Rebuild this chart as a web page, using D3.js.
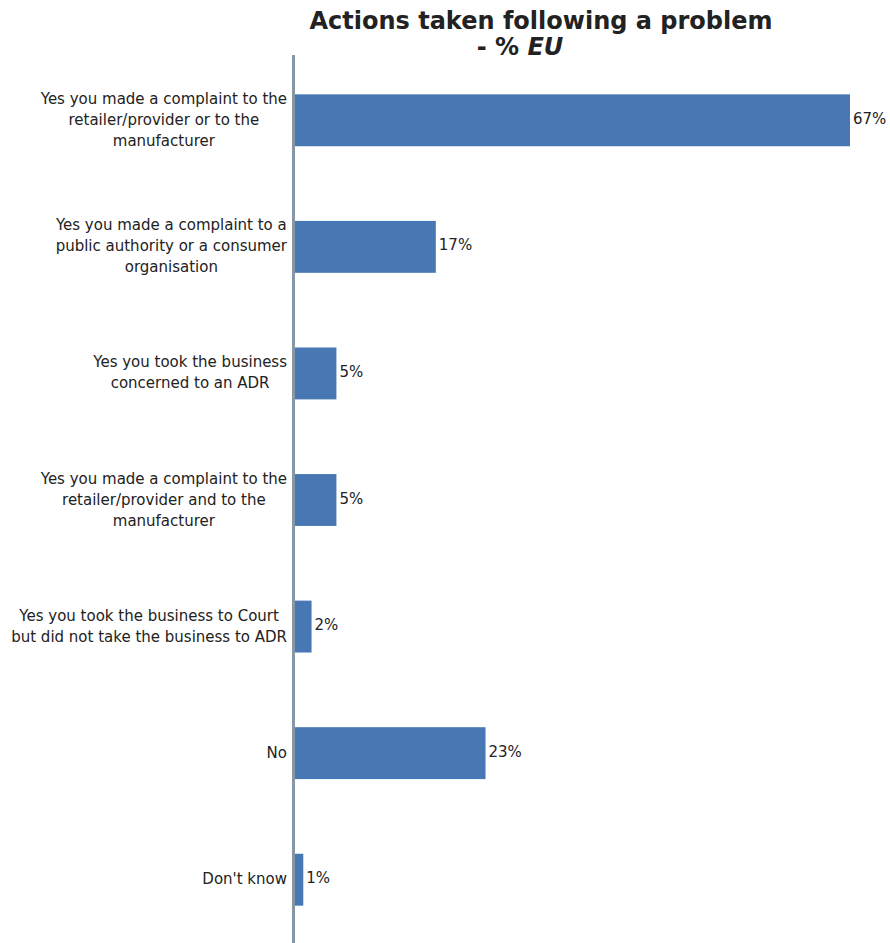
<!DOCTYPE html>
<html><head><meta charset="utf-8">
<script src="https://cdn.jsdelivr.net/npm/d3@7/dist/d3.min.js"></script>
<style>body{margin:0;background:#fff}</style>
</head><body>
<script>
const categories = [
  ["Yes you made a complaint to the","retailer/provider or to the","manufacturer"],
  ["Yes you made a complaint to a","public authority or a consumer","organisation"],
  ["Yes you took the business","concerned to an ADR"],
  ["Yes you made a complaint to the","retailer/provider and to the","manufacturer"],
  ["Yes you took the business to Court","but did not take the business to ADR"],
  ["No"],
  ["Don't know"]
];
const values = [67, 17, 5, 5, 2, 23, 1];
const valueLabels = ["67%","17%","5%","5%","2%","23%","1%"];
const titleLine1 = "Actions taken following a problem";
const titleLine2a = "- % ";
const titleLine2b = "EU";

const W = 890, H = 943;
const svg = d3.select("body").append("svg").attr("width", W).attr("height", H);
const font = "DejaVu Sans, Verdana, sans-serif";

const x0 = 295;
const x = d3.scaleLinear().domain([0, 67]).range([x0, 850]);
const y = d3.scaleBand().domain(d3.range(categories.length)).range([57, 943]).paddingInner(0.59).paddingOuter(0.295);

// title
svg.append("text").attr("x", 541).attr("y", 29).attr("text-anchor", "middle")
  .attr("font-family", font).attr("font-weight", "bold").attr("font-size", 24).attr("fill", "#222")
  .text(titleLine1);
const t2 = svg.append("text").attr("x", 520).attr("y", 55).attr("text-anchor", "middle")
  .attr("font-family", font).attr("font-weight", "bold").attr("font-size", 24).attr("fill", "#222");
t2.append("tspan").text(titleLine2a);
t2.append("tspan").attr("font-style", "italic").text(titleLine2b);

// bars
svg.selectAll("rect.bar").data(values).join("rect").attr("class", "bar")
  .attr("x", x0).attr("y", (d, i) => y(i))
  .attr("width", d => x(d) - x0).attr("height", y.bandwidth())
  .attr("fill", "#4778b4");

// axis line
svg.append("line").attr("x1", 293.5).attr("x2", 293.5).attr("y1", 55).attr("y2", H)
  .attr("stroke", "#8797a6").attr("stroke-width", 3);

// value labels
svg.selectAll("text.val").data(values).join("text").attr("class", "val")
  .attr("x", d => x(d) + 3).attr("y", (d, i) => y(i) + y.bandwidth() / 2 - 1)
  .attr("dominant-baseline", "middle")
  .attr("font-family", font).attr("font-size", 15).attr("fill", "#222")
  .text((d, i) => valueLabels[i]);

// category labels: right-aligned block, lines centered within block
const lh = 21, rightEdge = 287;
categories.forEach((lines, i) => {
  const cy = y(i) + y.bandwidth() / 2;
  const t = svg.append("text").attr("text-anchor", "middle")
    .attr("font-family", font).attr("font-size", 15).attr("fill", "#222");
  const spans = lines.map((l, j) => t.append("tspan")
      .attr("y", cy + (j - (lines.length - 1) / 2) * lh)
      .attr("dominant-baseline", "middle")
      .text(l));
  const maxw = d3.max(spans, s => s.node().getComputedTextLength());
  spans.forEach(s => s.attr("x", rightEdge - maxw / 2));
});
</script>
</body></html>
